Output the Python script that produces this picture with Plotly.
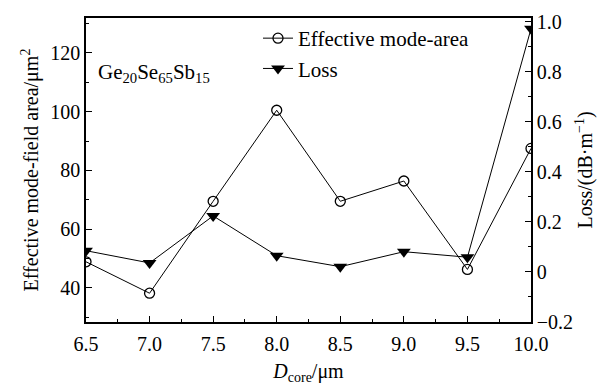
import plotly.graph_objects as go

d_core = [6.5, 7.0, 7.5, 8.0, 8.5, 9.0, 9.5, 10.0]
mode_area = [48.9, 38.2, 69.5, 100.5, 69.5, 76.4, 46.3, 87.5]
loss = [0.085, 0.036, 0.224, 0.065, 0.021, 0.081, 0.059, 0.972]

x_ticks = [6.5, 7.0, 7.5, 8.0, 8.5, 9.0, 9.5, 10.0]
left_ticks = [40, 60, 80, 100, 120]
right_ticks = [-0.2, 0, 0.2, 0.4, 0.6, 0.8, 1.0]
right_ticktext = ["\u22120.2", "0", "0.2", "0.4", "0.6", "0.8", "1.0"]

FONT = "Liberation Serif, Times New Roman, serif"
FS = 20

fig = go.Figure()
fig.add_trace(go.Scatter(
    x=d_core, y=mode_area, name="Effective mode-area",
    mode="lines+markers",
    line=dict(color="black", width=1),
    marker=dict(symbol="circle-open", size=10, color="black", line=dict(width=1.3)),
    yaxis="y",
))
fig.add_trace(go.Scatter(
    x=d_core, y=loss, name="Loss",
    mode="lines+markers",
    line=dict(color="black", width=1),
    marker=dict(symbol="triangle-down", size=12, color="black"),
    yaxis="y2",
))

axis_common = dict(
    showline=True, linecolor="black", linewidth=1.5,
    ticks="inside", ticklen=6, tickcolor="black", tickwidth=1,
    showgrid=False, zeroline=False, automargin=False,
    tickfont=dict(family=FONT, size=FS, color="black"),
)

fig.update_layout(
    width=605, height=389,
    margin=dict(l=86, r=74, t=18, b=67),
    paper_bgcolor="white", plot_bgcolor="white",
    font=dict(family=FONT, size=FS, color="black"),
    showlegend=True,
    legend=dict(
        x=(258 - 86) / 445, y=1.0, xanchor="left", yanchor="top",
        bgcolor="rgba(0,0,0,0)", borderwidth=0,
        font=dict(family=FONT, size=21, color="black"),
        itemwidth=30, tracegroupgap=0,
    ),
    xaxis=dict(
        **axis_common, mirror=True, range=[6.5, 10.0],
        tickvals=x_ticks, tickformat=".1f", ticklabelstandoff=3,
        minor=dict(dtick=0.25, ticks="inside", ticklen=3, tickcolor="black"),
        title=dict(text="<i>D</i><sub>core</sub>/\u03bcm", font=dict(family=FONT, size=FS), standoff=10),
    ),
    yaxis=dict(
        **axis_common, range=[28.4, 131.9],
        tickvals=left_ticks,
        minor=dict(tickvals=[30, 50, 70, 90, 110, 130], ticks="inside", ticklen=3, tickcolor="black"),
        title=dict(text="Effective mode-field area/\u03bcm<sup>2</sup>", font=dict(family=FONT, size=FS), standoff=6),
    ),
    yaxis2=dict(
        **axis_common, overlaying="y", side="right", range=[-0.2, 1.015],
        tickvals=right_ticks, ticktext=right_ticktext,
        minor=dict(tickvals=[-0.1, 0.1, 0.3, 0.5, 0.7, 0.9], ticks="inside", ticklen=3, tickcolor="black"),
        title=dict(text="Loss/(dB\u00b7m<sup>\u22121</sup>)", font=dict(family=FONT, size=FS), standoff=6),
    ),
    annotations=[dict(
        text="Ge<sub>20</sub>Se<sub>65</sub>Sb<sub>15</sub>",
        x=(96 - 86) / 445, y=(322 - 73) / 304, xref="paper", yref="paper",
        xanchor="left", yanchor="middle", showarrow=False,
        font=dict(family=FONT, size=21, color="black"),
    )],
)

fig.write_html("out.html")
